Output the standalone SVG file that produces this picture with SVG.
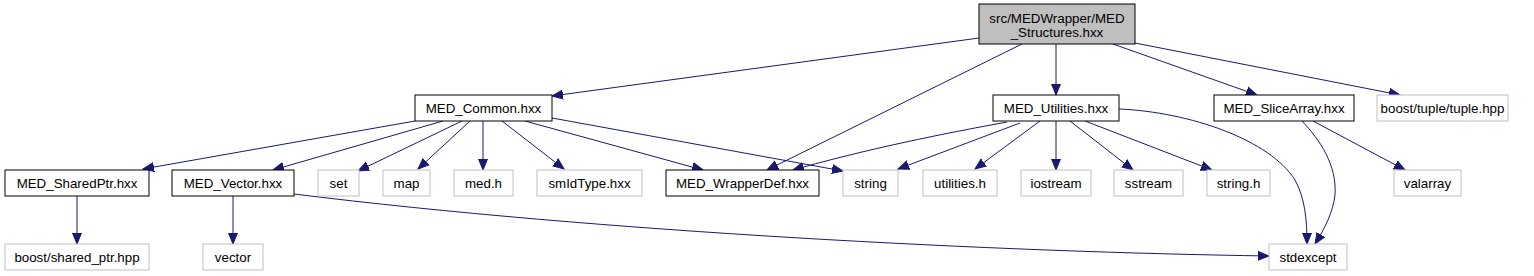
<svg xmlns="http://www.w3.org/2000/svg" width="1534" height="276" viewBox="0 0 1534 276">
<style>
text{font-family:"Liberation Sans",Arial,sans-serif;font-size:13.33px;text-anchor:middle;fill:#000}
.n rect{fill:#fff;stroke:#000;stroke-width:1}
.g rect{fill:#fff;stroke:#bfbfbf;stroke-width:1}
.r rect{fill:#bfbfbf;stroke:#000;stroke-width:1}
#edges path{fill:none;stroke:#191970;stroke-width:1;marker-end:url(#ah)}
</style>
<defs>
<marker id="ah" markerUnits="userSpaceOnUse" markerWidth="14" markerHeight="12" refX="11" refY="0" viewBox="0 -6 14 12" orient="auto">
<path d="M0,-4.5 L11,0 L0,4.5 z" fill="#191970" stroke="#191970" stroke-width="1"/>
</marker>
</defs>
<rect width="1534" height="276" fill="#fff"/>
<g id="edges">
<path d="M979,38 L552,96"/>
<path d="M1022,44 L767,170"/>
<path d="M1056,44 L1056,95"/>
<path d="M1113,44 L1257,95"/>
<path d="M1135,43 L1400,95"/>
<path d="M415,121 L143,169"/>
<path d="M443,121 L273,170"/>
<path d="M462,121 L358,171"/>
<path d="M470,121 L418,169"/>
<path d="M483,121 L483,170"/>
<path d="M502,121 L564,169"/>
<path d="M525,121 L703,170"/>
<path d="M552,118 L843,171"/>
<path d="M1007,122 Q880,145 793,170"/>
<path d="M1020,123 L898,169"/>
<path d="M1040,121 L975,169"/>
<path d="M1056,121 L1056,170"/>
<path d="M1070,121 L1133,170"/>
<path d="M1085,121 L1212,170"/>
<path d="M1119,109 C1190,112 1270,140 1295,180 C1305,198 1307,220 1307,244"/>
<path d="M1302,121 C1320,140 1337,165 1335,195 C1333,212 1325,228 1315,244"/>
<path d="M1313,121 L1405,170"/>
<path d="M77,196 L77,244"/>
<path d="M233,196 L233,244"/>
<path d="M294,194 C600,232 1000,252 1269,256"/>
</g>
<g id="root" class="r"><rect x="979" y="4" width="156" height="40"/><text x="1057" y="23">src/MEDWrapper/MED</text><text x="1057" y="37">_Structures.hxx</text></g>
<g id="MED_Common" class="n"><rect x="415" y="95" width="137" height="26"/><text x="483.5" y="112.5">MED_Common.hxx</text></g>
<g id="MED_Utilities" class="n"><rect x="993" y="95" width="126" height="26"/><text x="1056" y="112.5">MED_Utilities.hxx</text></g>
<g id="MED_SliceArray" class="n"><rect x="1214" y="95" width="140" height="26"/><text x="1284" y="112.5">MED_SliceArray.hxx</text></g>
<g id="boost_tuple" class="g"><rect x="1377" y="95" width="131" height="26"/><text x="1442.5" y="112.5">boost/tuple/tuple.hpp</text></g>
<g id="MED_SharedPtr" class="n"><rect x="5" y="170" width="144" height="26"/><text x="77" y="187.5">MED_SharedPtr.hxx</text></g>
<g id="MED_Vector" class="n"><rect x="172" y="170" width="122" height="26"/><text x="233" y="187.5">MED_Vector.hxx</text></g>
<g id="set" class="g"><rect x="318" y="170" width="41" height="26"/><text x="338.5" y="187.5">set</text></g>
<g id="map" class="g"><rect x="383" y="170" width="47" height="26"/><text x="406.5" y="187.5">map</text></g>
<g id="med_h" class="g"><rect x="454" y="170" width="59" height="26"/><text x="483.5" y="187.5">med.h</text></g>
<g id="smIdType" class="g"><rect x="537" y="170" width="105" height="26"/><text x="589.5" y="187.5">smIdType.hxx</text></g>
<g id="MED_WrapperDef" class="n"><rect x="666" y="170" width="153" height="26"/><text x="742.5" y="187.5">MED_WrapperDef.hxx</text></g>
<g id="string" class="g"><rect x="843" y="170" width="55" height="26"/><text x="870.5" y="187.5">string</text></g>
<g id="utilities_h" class="g"><rect x="923" y="170" width="74" height="26"/><text x="960" y="187.5">utilities.h</text></g>
<g id="iostream" class="g"><rect x="1021" y="170" width="70" height="26"/><text x="1056" y="187.5">iostream</text></g>
<g id="sstream" class="g"><rect x="1114" y="170" width="69" height="26"/><text x="1148.5" y="187.5">sstream</text></g>
<g id="string_h" class="g"><rect x="1207" y="170" width="63" height="26"/><text x="1238.5" y="187.5">string.h</text></g>
<g id="valarray" class="g"><rect x="1394" y="170" width="67" height="26"/><text x="1427.5" y="187.5">valarray</text></g>
<g id="boost_shared_ptr" class="g"><rect x="5" y="244" width="144" height="26"/><text x="77" y="261.5">boost/shared_ptr.hpp</text></g>
<g id="vector" class="g"><rect x="203" y="244" width="60" height="26"/><text x="233" y="261.5">vector</text></g>
<g id="stdexcept" class="g"><rect x="1269" y="244" width="78" height="26"/><text x="1308" y="261.5">stdexcept</text></g>
</svg>
